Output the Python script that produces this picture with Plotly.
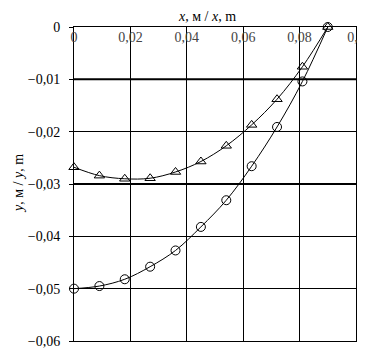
import plotly.graph_objects as go

x_vals = [0, 0.009, 0.018, 0.027, 0.036, 0.045, 0.054, 0.063, 0.072, 0.081, 0.09]
y_triangle = [-0.0268, -0.0284, -0.0290, -0.0289, -0.0277, -0.0257, -0.0227, -0.0187, -0.0138, -0.0076, 0]
y_circle = [-0.0500, -0.0495, -0.0482, -0.0458, -0.0427, -0.0382, -0.0331, -0.0266, -0.0191, -0.0104, 0]
thick_grid_y = [-0.01, -0.03]

FONT = "Times New Roman, Liberation Serif, DejaVu Serif, serif"

fig = go.Figure()
fig.add_trace(go.Scatter(
    x=x_vals, y=y_triangle, mode="lines+markers",
    line=dict(color="black", width=1, shape="spline"),
    marker=dict(symbol="triangle-up-open", size=9, color="black", line=dict(width=1)),
    showlegend=False, cliponaxis=False))
fig.add_trace(go.Scatter(
    x=x_vals, y=y_circle, mode="lines+markers",
    line=dict(color="black", width=1, shape="spline"),
    marker=dict(symbol="circle-open", size=9, color="black", line=dict(width=1)),
    showlegend=False, cliponaxis=False))

for gy in thick_grid_y:
    fig.add_shape(type="line", xref="x", yref="y", x0=0, x1=0.1, y0=gy, y1=gy,
                  line=dict(color="black", width=2), layer="below")

fig.update_layout(
    width=365, height=349,
    margin=dict(l=66, r=9, t=19, b=8),
    plot_bgcolor="white", paper_bgcolor="white",
    separators=", ",
    font=dict(family=FONT, size=14, color="black"),
    xaxis=dict(range=[0, 0.1], dtick=0.02, side="top", ticklabelposition="inside",
               ticklabeloverflow="allow", ticklabelstandoff=5,
               showgrid=True, gridcolor="black", gridwidth=1,
               showline=True, linecolor="black", linewidth=1, mirror=True,
               zeroline=False, ticks="", tickfont=dict(family=FONT, size=14)),
    yaxis=dict(range=[-0.06, 0], dtick=0.01, showgrid=True, gridcolor="black", gridwidth=1,
               showline=True, linecolor="black", linewidth=1, mirror=True,
               zeroline=False, ticks="outside", ticklen=4, tickcolor="black",
               ticklabelstandoff=6,
               tickfont=dict(family=FONT, size=14)),
    annotations=[
        dict(text="<i>x</i>, м / <i>x</i>, m", xref="paper", yref="paper", x=0.47, y=1,
             xanchor="center", yanchor="bottom", yshift=1, showarrow=False,
             font=dict(family=FONT, size=14)),
        dict(text="<i>y</i>, м / <i>y</i>, m", xref="paper", yref="paper", x=0, y=0.5,
             xanchor="center", yanchor="middle", xshift=-56, textangle=-90, showarrow=False,
             font=dict(family=FONT, size=14)),
    ],
)

fig.write_html("out.html")
